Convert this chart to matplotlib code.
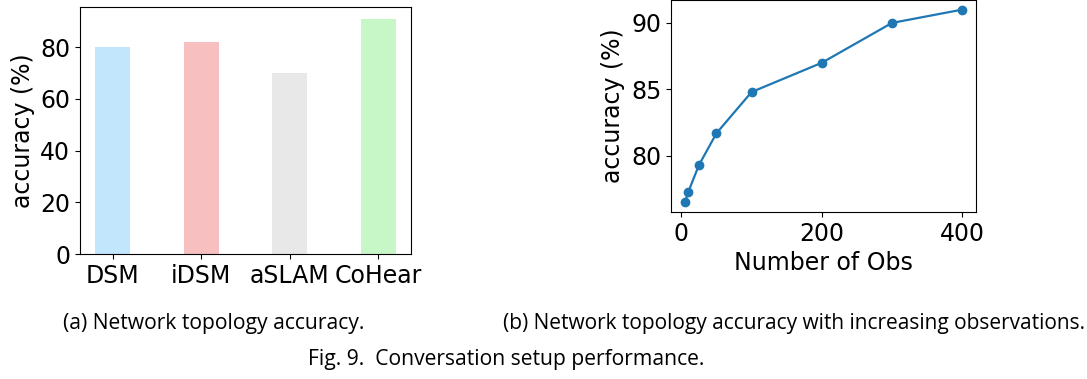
import matplotlib
matplotlib.use("Agg")
import matplotlib.pyplot as plt

plt.rcParams["font.family"] = ["DejaVu Sans"]

# (a) accuracy per method
methods = ["DSM", "iDSM", "aSLAM", "CoHear"]
method_acc = [80, 82, 70, 91]
bar_colors = ["lightskyblue", "lightcoral", "lightgray", "lightgreen"]

# (b) accuracy vs number of observations
num_obs = [5, 10, 25, 50, 100, 200, 300, 400]
obs_acc = [76.5, 77.3, 79.3, 81.7, 84.8, 87.0, 90.0, 91.0]

W, H = 1087, 379
fig = plt.figure(figsize=(W / 100, H / 100), dpi=100)

def frac(l, r, t, b):
    return [l / W, 1 - b / H, (r - l) / W, (b - t) / H]

def style_ticks(ax, size):
    for lbl in ax.get_xticklabels() + ax.get_yticklabels():
        lbl.set_fontfamily("DejaVu Sans")
        lbl.set_fontsize(size)

ax1 = fig.add_axes(frac(80, 411, 7, 254))
ax1.bar(methods, method_acc, width=0.4, color=bar_colors, alpha=0.5)
ax1.set_ylabel("accuracy (%)", fontsize=17, family="DejaVu Sans")
ax1.set_yticks([0, 20, 40, 60, 80])
style_ticks(ax1, 17)

ax2 = fig.add_axes(frac(671, 976, 0, 212))
ax2.plot(num_obs, obs_acc, marker="o", color="#1f77b4", markersize=6, linewidth=1.6)
ax2.set_xlabel("Number of Obs", fontsize=17, family="DejaVu Sans")
ax2.set_ylabel("accuracy (%)", fontsize=17, family="DejaVu Sans")
ax2.set_yticks([80, 85, 90])
ax2.set_xticks([0, 200, 400])
style_ticks(ax2, 17)

cap_font = ["Open Sans", "DejaVu Sans"]
fig.text(63 / W, 1 - 324 / H, "(a) Network topology accuracy.", fontsize=15.2,
         family=cap_font, va="center", ha="left")
fig.text(503 / W, 1 - 324 / H, "(b) Network topology accuracy with increasing observations.",
         fontsize=15.0, family=cap_font, va="center", ha="left")
fig.text(506 / W, 1 - 360 / H, "Fig. 9.  Conversation setup performance.", fontsize=15.2,
         family=cap_font, va="center", ha="center")

fig.savefig("out.png", dpi=100)
